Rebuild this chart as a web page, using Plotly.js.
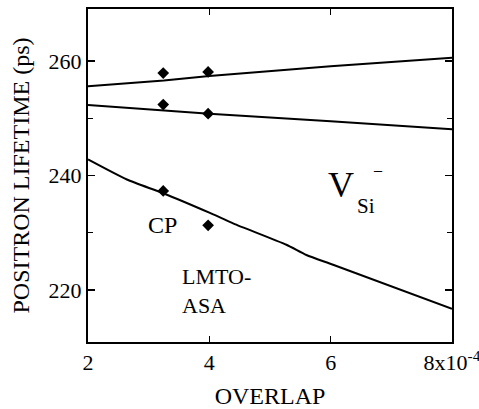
<!DOCTYPE html>
<html>
<head>
<meta charset="utf-8">
<script src="https://cdn.plot.ly/plotly-3.0.1.min.js"></script>
<style>html,body{margin:0;padding:0;background:#fff;}#chart{width:479px;height:409px;}</style>
</head>
<body>
<div id="chart"></div>
<script>
// Calculated points (CP)
const cpX = [3.24, 3.98, 3.24, 3.98, 3.24, 3.98];
const cpY = [257.9, 258.1, 252.4, 250.8, 237.3, 231.3];

// LMTO-ASA curves
const upperX = [2, 3.25, 4, 6, 8];
const upperY = [255.6, 256.6, 257.4, 259.1, 260.6];
const middleX = [2, 3.25, 4, 6, 8];
const middleY = [252.3, 251.4, 250.8, 249.5, 248.1];
const lowerX = [2, 2.64, 3.24, 4, 4.4, 5.27, 5.6, 6.04, 8];
const lowerY = [242.8, 239.3, 236.9, 233.5, 231.6, 227.9, 226.1, 224.4, 216.7];

const xTickVals = [2, 4, 6, 8];
const xTickText = ['2', '4', '6', '8x10<sup>-4</sup>'];
const yTickVals = [220, 240, 260];

const font = 'Liberation Serif';
const lineStyle = {color: '#000', width: 2};

const traces = [
  {x: upperX, y: upperY, mode: 'lines', line: lineStyle, hoverinfo: 'skip'},
  {x: middleX, y: middleY, mode: 'lines', line: lineStyle, hoverinfo: 'skip'},
  {x: lowerX, y: lowerY, mode: 'lines', line: Object.assign({shape: 'spline', smoothing: 0.6}, lineStyle), hoverinfo: 'skip'},
  {x: cpX, y: cpY, mode: 'markers', marker: {symbol: 'diamond', size: 9, color: '#000'}}
];

const layout = {
  width: 479, height: 409,
  margin: {l: 88, r: 27, t: 9, b: 67},
  paper_bgcolor: '#fff', plot_bgcolor: '#fff',
  showlegend: false,
  font: {family: font, color: '#000', size: 21},
  xaxis: {
    range: [2, 8], tickvals: xTickVals, ticktext: xTickText,
    showgrid: false, zeroline: false,
    showline: true, linecolor: '#000', linewidth: 2, mirror: 'ticks',
    ticks: 'inside', ticklen: 6, tickwidth: 1.5, tickcolor: '#000',
    ticklabeloverflow: 'allow',
    tickfont: {family: font, size: 22, color: '#000'},
    title: {text: 'OVERLAP', font: {family: font, size: 24, color: '#000'}, standoff: 16}
  },
  yaxis: {
    range: [210.9, 269.1], tickvals: yTickVals,
    showgrid: false, zeroline: false,
    showline: true, linecolor: '#000', linewidth: 2, mirror: 'ticks',
    ticks: 'inside', ticklen: 7, tickwidth: 1.5, tickcolor: '#000',
    minor: {tickvals: [230, 250], ticks: 'inside', ticklen: 5, tickwidth: 1.5, tickcolor: '#000'},
    tickfont: {family: font, size: 22, color: '#000'},
    title: {text: 'POSITRON LIFETIME (ps)', font: {family: font, size: 24, color: '#000'}, standoff: 12}
  },
  annotations: [
    {x: 3.22, y: 231.4, text: 'CP', showarrow: false, font: {family: font, size: 24}, xanchor: 'center', yanchor: 'middle'},
    {x: 3.52, y: 219.8, text: 'LMTO-<br>ASA', showarrow: false, align: 'left', font: {family: font, size: 22}, xanchor: 'left', yanchor: 'middle'},
    {x: 6.17, y: 238.4, text: 'V', showarrow: false, font: {family: font, size: 36}, xanchor: 'center', yanchor: 'middle'},
    {x: 6.58, y: 234.6, text: 'Si', showarrow: false, font: {family: font, size: 21}, xanchor: 'center', yanchor: 'middle'},
    {x: 6.78, y: 241.0, text: '\u2013', showarrow: false, font: {family: font, size: 16}, xanchor: 'center', yanchor: 'middle'}
  ]
};

Plotly.newPlot('chart', traces, layout, {staticPlot: true, displayModeBar: false});
</script>
</body>
</html>
